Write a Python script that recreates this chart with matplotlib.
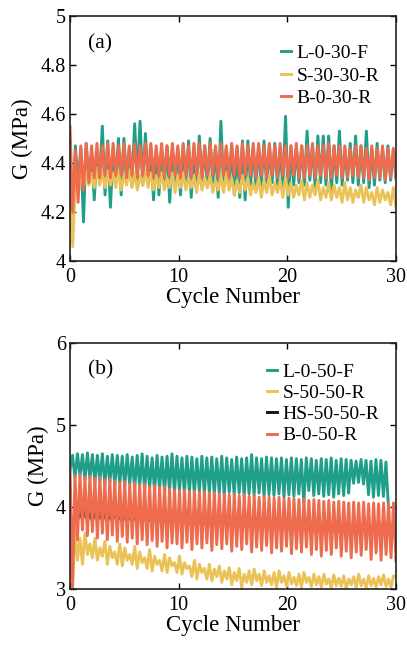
import matplotlib
matplotlib.use("Agg")
import matplotlib.pyplot as plt
import numpy as np

plt.rcParams['font.family'] = ['Liberation Serif', 'DejaVu Serif']

# ---- panel (a) data: start transient, then peak / trough of each oscillation
a_green_start = [4.40, 4.20]
a_green_hi = [4.47, 4.46, 4.48, 4.44, 4.45, 4.55, 4.49, 4.45, 4.50, 4.50,
              4.46, 4.56, 4.57, 4.52, 4.46, 4.45, 4.46, 4.47, 4.45, 4.46,
              4.47, 4.49, 4.46, 4.51, 4.47, 4.50, 4.46, 4.57, 4.46, 4.47,
              4.46, 4.49, 4.49, 4.46, 4.47, 4.49, 4.47, 4.48, 4.46, 4.59,
              4.47, 4.46, 4.47, 4.53, 4.47, 4.51, 4.51, 4.51, 4.47, 4.53,
              4.46, 4.48, 4.51, 4.47, 4.53, 4.46, 4.48, 4.46, 4.47, 4.45]
a_green_lo = [4.30, 4.16, 4.33, 4.25, 4.34, 4.27, 4.22, 4.33, 4.27, 4.33,
              4.32, 4.33, 4.31, 4.32, 4.25, 4.27, 4.32, 4.24, 4.32, 4.27,
              4.32, 4.26, 4.31, 4.32, 4.30, 4.32, 4.26, 4.31, 4.30, 4.27,
              4.26, 4.25, 4.31, 4.30, 4.31, 4.30, 4.32, 4.31, 4.30, 4.22,
              4.31, 4.32, 4.31, 4.33, 4.30, 4.32, 4.31, 4.29, 4.32, 4.31,
              4.33, 4.32, 4.31, 4.32, 4.30, 4.31, 4.33, 4.32, 4.33, 4.34]

a_yellow_start = [4.40, 4.06]
a_yellow_hi = [4.33, 4.36, 4.37, 4.36, 4.38, 4.36, 4.37, 4.36, 4.37, 4.35,
               4.37, 4.36, 4.35, 4.37, 4.36, 4.35, 4.36, 4.34, 4.36, 4.35,
               4.36, 4.34, 4.35, 4.36, 4.34, 4.35, 4.33, 4.35, 4.36, 4.34,
               4.33, 4.35, 4.34, 4.32, 4.34, 4.33, 4.35, 4.32, 4.33, 4.34,
               4.32, 4.31, 4.33, 4.32, 4.31, 4.33, 4.30, 4.32, 4.31, 4.30,
               4.32, 4.30, 4.29, 4.31, 4.30, 4.28, 4.30, 4.29, 4.28, 4.30]
a_yellow_lo = [4.28, 4.30, 4.31, 4.30, 4.31, 4.30, 4.31, 4.30, 4.29, 4.31,
               4.30, 4.29, 4.31, 4.30, 4.29, 4.30, 4.29, 4.30, 4.28, 4.30,
               4.29, 4.30, 4.28, 4.29, 4.30, 4.28, 4.29, 4.28, 4.29, 4.27,
               4.28, 4.29, 4.27, 4.28, 4.26, 4.28, 4.27, 4.28, 4.26, 4.27,
               4.26, 4.27, 4.25, 4.26, 4.27, 4.25, 4.26, 4.25, 4.26, 4.24,
               4.25, 4.24, 4.26, 4.24, 4.25, 4.23, 4.24, 4.25, 4.23, 4.22]

a_red_start = [4.55, 4.20]
a_red_hi = [4.45, 4.47, 4.48, 4.47, 4.48, 4.47, 4.48, 4.48, 4.47, 4.48,
            4.47, 4.48, 4.47, 4.48, 4.48, 4.47, 4.48, 4.47, 4.48, 4.47,
            4.48, 4.47, 4.48, 4.48, 4.47, 4.48, 4.47, 4.48, 4.47, 4.48,
            4.47, 4.48, 4.47, 4.48, 4.48, 4.47, 4.48, 4.47, 4.48, 4.47,
            4.47, 4.48, 4.47, 4.47, 4.48, 4.47, 4.47, 4.48, 4.47, 4.47,
            4.47, 4.46, 4.47, 4.47, 4.46, 4.47, 4.46, 4.47, 4.46, 4.46]
a_red_lo = [4.24, 4.29, 4.32, 4.34, 4.34, 4.35, 4.34, 4.35, 4.35, 4.34,
            4.35, 4.34, 4.35, 4.35, 4.34, 4.35, 4.34, 4.35, 4.35, 4.34,
            4.35, 4.34, 4.35, 4.34, 4.35, 4.35, 4.34, 4.35, 4.34, 4.35,
            4.34, 4.35, 4.35, 4.34, 4.35, 4.34, 4.35, 4.34, 4.35, 4.34,
            4.35, 4.34, 4.34, 4.35, 4.34, 4.35, 4.34, 4.34, 4.35, 4.34,
            4.34, 4.35, 4.34, 4.34, 4.33, 4.34, 4.34, 4.33, 4.34, 4.34]

# ---- panel (b) data
b_green_start = [4.45]
b_green_hi = [4.63, 4.65, 4.64, 4.66, 4.64, 4.63, 4.65, 4.62, 4.64, 4.63,
              4.62, 4.64, 4.61, 4.63, 4.65, 4.62, 4.60, 4.63, 4.61, 4.62,
              4.65, 4.62, 4.60, 4.62, 4.61, 4.59, 4.62, 4.60, 4.61, 4.59,
              4.62, 4.60, 4.58, 4.61, 4.59, 4.60, 4.64, 4.60, 4.59, 4.61,
              4.60, 4.59, 4.60, 4.58, 4.60, 4.59, 4.58, 4.60, 4.59, 4.57,
              4.59, 4.58, 4.60, 4.57, 4.59, 4.58, 4.57, 4.56, 4.58, 4.57,
              4.56, 4.58, 4.57, 4.55]
b_green_lo = [4.36, 4.38, 4.33, 4.35, 4.30, 4.32, 4.28, 4.30, 4.26, 4.28,
              4.25, 4.27, 4.22, 4.25, 4.20, 4.23, 4.19, 4.22, 4.18, 4.20,
              4.17, 4.20, 4.16, 4.18, 4.15, 4.19, 4.16, 4.18, 4.15, 4.17,
              4.14, 4.18, 4.15, 4.17, 4.13, 4.16, 4.14, 4.17, 4.13, 4.15,
              4.14, 4.16, 4.12, 4.15, 4.13, 4.16, 4.05, 4.20, 4.14, 4.16,
              4.13, 4.15, 4.12, 4.16, 4.14, 4.17, 4.29, 4.30, 4.28, 4.15,
              4.12, 4.14, 4.13, 4.00]

b_yellow_start = [3.62, 3.00, 3.70, 3.35]
b_yellow_hi = [3.62, 3.68, 3.55, 3.62, 3.50, 3.58, 3.52, 3.45, 3.55, 3.50,
               3.42, 3.52, 3.45, 3.38, 3.48, 3.40, 3.35, 3.42, 3.38, 3.32,
               3.40, 3.32, 3.28, 3.35, 3.30, 3.25, 3.30, 3.24, 3.28, 3.22,
               3.26, 3.20, 3.25, 3.18, 3.22, 3.24, 3.18, 3.22, 3.16, 3.20,
               3.22, 3.16, 3.20, 3.14, 3.18, 3.20, 3.14, 3.18, 3.15, 3.18,
               3.12, 3.17, 3.13, 3.16, 3.12, 3.15, 3.18, 3.12, 3.16, 3.13,
               3.15, 3.17, 3.12, 3.16]
b_yellow_lo = [3.30, 3.42, 3.38, 3.35, 3.40, 3.30, 3.38, 3.30, 3.28, 3.35,
               3.30, 3.25, 3.32, 3.25, 3.22, 3.30, 3.22, 3.20, 3.28, 3.20,
               3.18, 3.25, 3.15, 3.12, 3.20, 3.12, 3.10, 3.15, 3.08, 3.12,
               3.05, 3.10, 3.02, 3.08, 3.05, 3.10, 3.04, 3.08, 3.05, 3.02,
               3.08, 3.03, 3.06, 3.04, 3.02, 3.08, 3.03, 3.05, 3.02, 3.06,
               3.01, 3.04, 3.03, 3.00, 3.05, 3.02, 3.04, 3.01, 3.04, 3.02,
               3.05, 3.03, 3.02, 3.14]

b_black_start = [3.82, 3.70]
b_black_hi = [3.95, 3.94, 3.95, 3.93, 3.94, 3.92, 3.93, 3.92, 3.93, 3.91,
              3.92, 3.91, 3.90, 3.91, 3.90, 3.89, 3.90, 3.89, 3.88, 3.89,
              3.88, 3.87, 3.88, 3.87, 3.86, 3.87, 3.86, 3.85, 3.86, 3.85,
              3.86, 3.85, 3.84, 3.85, 3.84, 3.84, 3.83, 3.84, 3.83, 3.83,
              3.82, 3.83, 3.82, 3.82, 3.81, 3.82, 3.81, 3.81, 3.82, 3.81,
              3.80, 3.81, 3.80, 3.81, 3.80, 3.80, 3.79, 3.80, 3.79, 3.80,
              3.79, 3.79, 3.80, 3.79, 3.79]
b_black_lo = [3.84, 3.85, 3.84, 3.83, 3.84, 3.83, 3.82, 3.83, 3.82, 3.81,
              3.82, 3.81, 3.80, 3.81, 3.80, 3.79, 3.80, 3.79, 3.78, 3.79,
              3.78, 3.78, 3.77, 3.78, 3.77, 3.77, 3.76, 3.77, 3.76, 3.76,
              3.75, 3.76, 3.75, 3.75, 3.74, 3.75, 3.74, 3.74, 3.73, 3.74,
              3.73, 3.73, 3.72, 3.73, 3.72, 3.72, 3.71, 3.72, 3.71, 3.71,
              3.71, 3.70, 3.71, 3.70, 3.70, 3.70, 3.69, 3.70, 3.69, 3.69,
              3.69, 3.68, 3.69, 3.68, 3.68]

b_red_start = [4.50, 3.00]
b_red_hi = [4.38, 4.40, 4.36, 4.38, 4.35, 4.36, 4.33, 4.34, 4.32, 4.30,
            4.31, 4.28, 4.30, 4.27, 4.28, 4.25, 4.26, 4.24, 4.25, 4.22,
            4.21, 4.20, 4.21, 4.19, 4.20, 4.18, 4.19, 4.17, 4.18, 4.16,
            4.16, 4.15, 4.16, 4.14, 4.15, 4.13, 4.14, 4.12, 4.13, 4.12,
            4.11, 4.12, 4.10, 4.11, 4.10, 4.09, 4.10, 4.08, 4.09, 4.08,
            4.07, 4.08, 4.06, 4.07, 4.06, 4.05, 4.06, 4.05, 4.06, 4.04,
            4.05, 4.04, 4.05, 4.04, 4.05]
b_red_lo = [3.60, 3.72, 3.65, 3.70, 3.62, 3.68, 3.60, 3.66, 3.58, 3.64,
            3.57, 3.62, 3.55, 3.60, 3.54, 3.59, 3.52, 3.58, 3.50, 3.56,
            3.55, 3.50, 3.57, 3.48, 3.55, 3.50, 3.56, 3.47, 3.54, 3.49,
            3.55, 3.46, 3.52, 3.48, 3.55, 3.45, 3.51, 3.47, 3.53, 3.44,
            3.50, 3.46, 3.52, 3.43, 3.49, 3.45, 3.51, 3.42, 3.48, 3.40,
            3.47, 3.42, 3.50, 3.40, 3.46, 3.38, 3.45, 3.41, 3.48, 3.36,
            3.44, 3.35, 3.42, 3.38, 3.34]

labels_a = ['L-0-30-F', 'S-30-30-R', 'B-0-30-R']
labels_b = ['L-0-50-F', 'S-50-50-R', 'HS-50-50-R', 'B-0-50-R']
yticks_a = [4, 4.2, 4.4, 4.6, 4.8, 5]
ytick_labels_a = ['4', '4.2', '4.4', '4.6', '4.8', '5']
yticks_b = [3, 4, 5, 6]
xticks = [0, 10, 20, 30]

GREEN = '#1f9e89'
YELLOW = '#ebc257'
RED = '#ee6b4d'
BLACK = '#151515'


def zigzag(start, hi, lo):
    vals = list(start)
    for h, l in zip(hi, lo):
        vals += [h, l]
    return np.array(vals)


def style(ax):
    ax.set_xlim(0, 30)
    ax.set_xticks(xticks)
    ax.tick_params(direction='in', top=True, right=True, length=4,
                   width=1.0, labelsize=14.5)
    ax.tick_params(axis='x', pad=5)
    ax.tick_params(axis='y', pad=3)
    for s in ax.spines.values():
        s.set_linewidth(1.2)
        s.set_color('#222222')
    ax.set_xlabel('Cycle Number', fontsize=16.5, labelpad=0)
    ax.set_ylabel('G (MPa)', fontsize=16.5, labelpad=5)


fig = plt.figure(figsize=(4.07, 6.5), dpi=100)
ax1 = fig.add_axes([0.172, 0.598, 0.801, 0.378])
ax2 = fig.add_axes([0.172, 0.094, 0.801, 0.378])

lw = 2.1
# panel (a)
for start, hi, lo, col, lab in [(a_green_start, a_green_hi, a_green_lo, GREEN, labels_a[0]),
                                (a_yellow_start, a_yellow_hi, a_yellow_lo, YELLOW, labels_a[1]),
                                (a_red_start, a_red_hi, a_red_lo, RED, labels_a[2])]:
    y = zigzag(start, hi, lo)
    x = np.linspace(0, 30, len(y))
    ax1.plot(x, y, color=col, lw=lw, label=lab)
ax1.set_ylim(4, 5)
ax1.set_yticks(yticks_a, ytick_labels_a)
style(ax1)
ax1.text(0.055, 0.886, '(a)', transform=ax1.transAxes, fontsize=15.5, va='center')
ax1.legend(loc='upper right', bbox_to_anchor=(0.985, 0.93), frameon=False,
           fontsize=14, handlelength=0.5, handletextpad=0.3, labelspacing=0.25,
           borderaxespad=0.2)

# panel (b)
for start, hi, lo, col, lab, xend in [(b_green_start, b_green_hi, b_green_lo, GREEN, labels_b[0], 29.3),
                                      (b_yellow_start, b_yellow_hi, b_yellow_lo, YELLOW, labels_b[1], 30),
                                      (b_black_start, b_black_hi, b_black_lo, BLACK, labels_b[2], 30),
                                      (b_red_start, b_red_hi, b_red_lo, RED, labels_b[3], 30)]:
    y = zigzag(start, hi, lo)
    x = np.linspace(0, xend, len(y))
    ax2.plot(x, y, color=col, lw=lw, label=lab)
ax2.set_ylim(3, 6)
ax2.set_yticks(yticks_b)
style(ax2)
ax2.text(0.055, 0.89, '(b)', transform=ax2.transAxes, fontsize=15.5, va='center')
ax2.legend(loc='upper right', bbox_to_anchor=(0.985, 0.965), frameon=False,
           fontsize=14, handlelength=0.5, handletextpad=0.3, labelspacing=0.18,
           borderaxespad=0.2)

fig.savefig('out.png', dpi=100)
